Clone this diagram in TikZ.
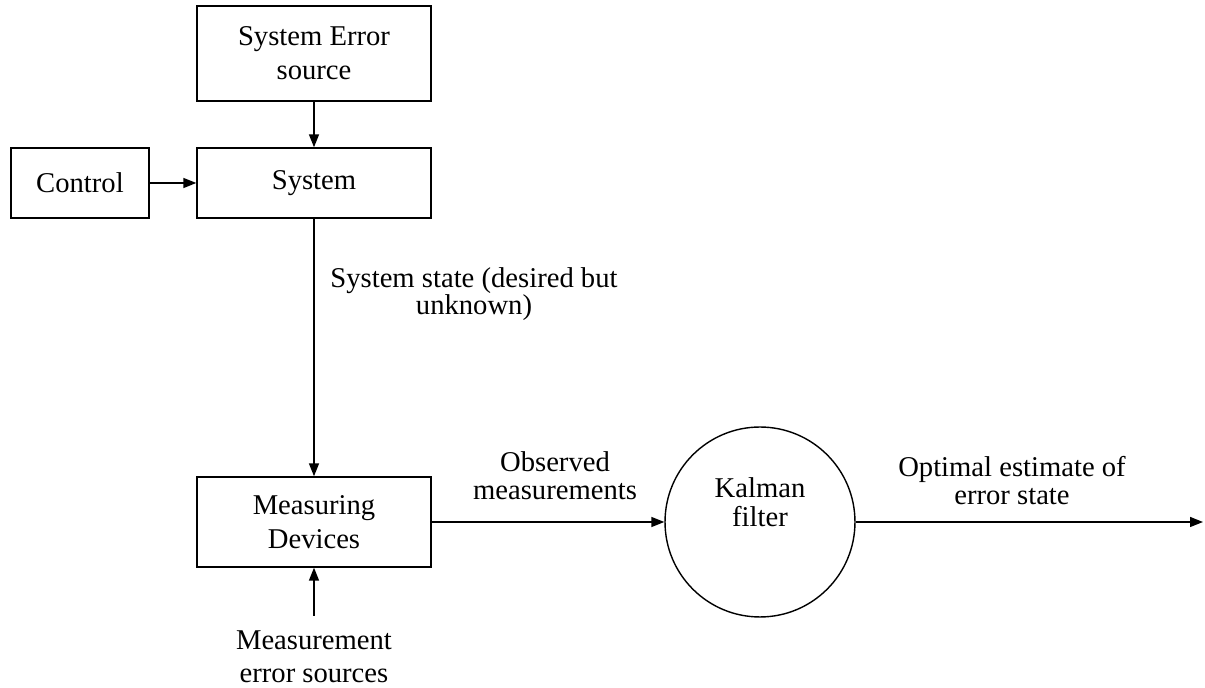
\documentclass[tikz,border=0pt]{standalone}
\usepackage{fontspec}
\setmainfont{Liberation Serif}
\usetikzlibrary{arrows.meta}

\tikzset{
    block/.style={draw, line width=0.8pt, align=center, inner sep=0pt,
        font=\fontsize{16.3}{19.3}\selectfont},
    note/.style={align=center, inner sep=0pt,
        font=\fontsize{16.3}{16}\selectfont},
    flow/.style={-{Triangle[length=0.26cm,width=0.2cm]}, line width=0.8pt},
}

\begin{document}
\begin{tikzpicture}[x=0.02cm, y=-0.02cm]
            \useasboundingbox (0,0) rectangle (1205,688);
            \node[block, minimum width=4.68cm, minimum height=1.9cm](errsrc) at (314,53.5) {System Error\\source};
            \node[block, minimum width=4.68cm, minimum height=1.4cm](sys)    at (314,183)  {System};
            \node[block, minimum width=2.76cm, minimum height=1.4cm](ctrl)   at (80,183)   {Control};
            \node[block, minimum width=4.68cm, minimum height=1.8cm](meas)   at (314,522)  {Measuring\\Devices};
            \node[block, circle, minimum size=3.8cm, text depth=0.8cm,
                  font=\fontsize{16.3}{16.5}\selectfont](kf)          at (760,522)  {Kalman\\filter};
            \coordinate (out) at (1203,522);
            % labels on the connectors
            \node[note, anchor=base, font=\fontsize{16.3}{14.5}\selectfont](statelbl) at (474,315) {System state (desired but\\unknown)};
            \node[note, anchor=base](obslbl) at (555,500) {Observed\\measurements};
            \node[note, anchor=base](optlbl) at (1012,505) {Optimal estimate of\\error state};
            \node[note, anchor=base, font=\fontsize{16.3}{18.8}\selectfont](measerr) at (314,683) {Measurement\\error sources};
            \path
                (errsrc) edge [flow] (sys)
                (ctrl)   edge [flow] (sys)
                (sys)    edge [flow] (meas)
                (measerr) edge [flow, shorten <=0.3cm] (meas)
                (meas)   edge [flow] (kf)
                (kf)     edge [flow] (out)
                ;
        \end{tikzpicture}
\end{document}
